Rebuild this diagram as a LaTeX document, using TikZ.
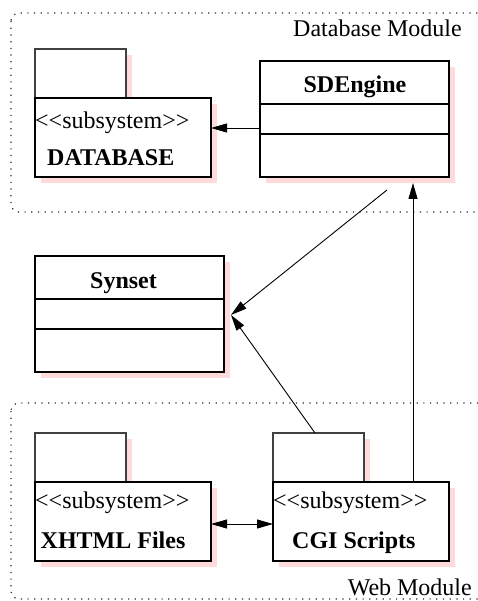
\documentclass[tikz,border=0pt]{standalone}
\usepackage{fontspec}
\setmainfont{Liberation Serif}
\usetikzlibrary{arrows.meta,shadows}
\definecolor{shpink}{RGB}{255,218,218}
\definecolor{dotgray}{RGB}{40,40,40}
\begin{document}
\begin{tikzpicture}[x=1pt,y=-1pt,
  box/.style={draw=black, line width=1.1pt, fill=white, inner sep=0pt, outer sep=0pt, anchor=north west,
    drop shadow={shadow xshift=6pt, shadow yshift=-6pt, fill=shpink, opacity=1, draw=none}},
  tabbox/.style={box, draw=black!75},
  lbl/.style={inner sep=0pt, font=\fontsize{24}{28}\selectfont},
  blbl/.style={lbl, font=\fontsize{24}{28}\selectfont\bfseries},
  module/.style={draw=dotgray, line width=1.2pt, dash pattern=on 1.2pt off 5.5pt, rounded corners=8pt},
  arr/.style={-{Triangle[length=16pt,width=9pt]}, line width=0.9pt},
  darr/.style={{Triangle[length=16pt,width=9pt]}-{Triangle[length=16pt,width=9pt]}, line width=0.9pt}]
\useasboundingbox (0,0) rectangle (477,601);
% module frames
\draw[module] (11,13) rectangle (500,212);
\draw[module] (11,403) rectangle (500,599);
\node[lbl, anchor=base east] (dbmod) at (462,37) {Database Module};
\node[lbl, anchor=base east] (webmod) at (472,595) {Web Module};
% DATABASE package
\node[tabbox, minimum width=91pt, minimum height=49pt] (dbtab) at (35,49) {};
\node[box, minimum width=176pt, minimum height=79pt] (dbbody) at (35,98) {};
\node[lbl, anchor=base west] (dbst) at (35,129) {<\kern0pt<subsystem>\kern0pt>};
\node[blbl, anchor=base west] (dbname) at (47,166) {DATABASE};
% SDEngine class
\node[box, minimum width=189pt, minimum height=116pt] (sd) at (260,61) {};
\coordinate (ysdA) at (0,104);
\coordinate (ysdB) at (0,134);
\draw[line width=1.1pt] (sd.west |- ysdA) -- (sd.east |- ysdA);
\draw[line width=1.1pt] (sd.west |- ysdB) -- (sd.east |- ysdB);
\node[blbl, anchor=base] (sdname) at (355,93) {SDEngine};
% Synset class
\node[box, minimum width=189pt, minimum height=116pt] (syn) at (35,256) {};
\coordinate (ysyA) at (0,299);
\coordinate (ysyB) at (0,329);
\draw[line width=1.1pt] (syn.west |- ysyA) -- (syn.east |- ysyA);
\draw[line width=1.1pt] (syn.west |- ysyB) -- (syn.east |- ysyB);
\node[blbl, anchor=base] (synname) at (123.5,288) {Synset};
% XHTML package
\node[tabbox, minimum width=91pt, minimum height=49pt] (xhtab) at (35,433) {};
\node[box, minimum width=176pt, minimum height=79pt] (xhbody) at (35,482) {};
\node[lbl, anchor=base west] (xhst) at (35,508) {<\kern0pt<subsystem>\kern0pt>};
\node[blbl, anchor=base west] (xhname) at (40.5,548) {XHTML Files};
% CGI package
\node[tabbox, minimum width=91pt, minimum height=49pt] (cgitab) at (273,433) {};
\node[box, minimum width=176pt, minimum height=79pt] (cgibody) at (273,482) {};
\node[lbl, anchor=base west] (cgist) at (273,508) {<\kern0pt<subsystem>\kern0pt>};
\node[blbl, anchor=base west] (cginame) at (292,548) {CGI Scripts};
% connectors
\coordinate (ydb) at (0,128);
\draw[arr] (sd.west |- ydb) -- (dbbody.east |- ydb);
\coordinate (syntip) at (231,315);
\coordinate (sdfoot) at (387,190);
\coordinate (cgitop) at (315,433);
\draw[arr] (sdfoot) -- (syntip);
\draw[arr] (cgitop) -- (syntip);
\coordinate (xup) at (413,0);
\draw[arr, shorten >=6pt] (cgibody.north -| xup) -- (sd.south -| xup);
\coordinate (yxc) at (0,524);
\draw[darr] (xhbody.east |- yxc) -- (cgibody.west |- yxc);
\end{tikzpicture}
\end{document}
